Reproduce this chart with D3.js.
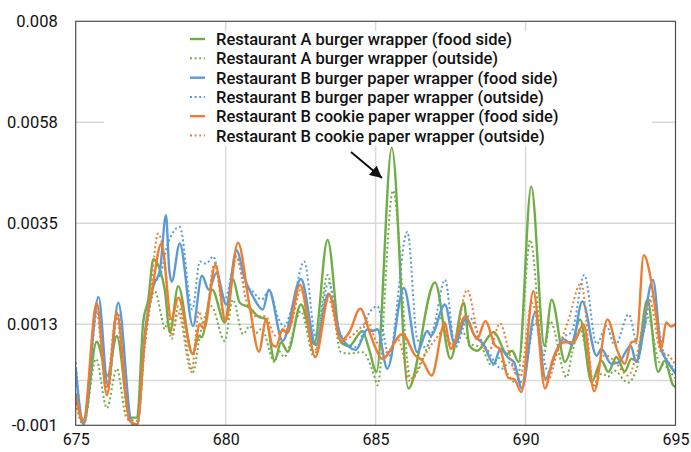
<!DOCTYPE html>
<html>
<head>
<meta charset="utf-8">
<script src="https://cdn.jsdelivr.net/npm/d3@7"></script>
<style>
  body { margin: 0; background: #fff; }
  svg { display: block; }
</style>
</head>
<body>
<svg id="chart" width="691" height="452"></svg>
<script>
// Axis ticks
const xTicks = [675, 680, 685, 690, 695];
const yTicks = [-0.001, 0.00125, 0.0035, 0.00575, 0.008];
const yTickLabels = ["-0.001", "0.0013", "0.0035", "0.0058", "0.008"];

// Series names (legend order)
const seriesNames = [
  "Restaurant A burger wrapper (food side)",
  "Restaurant A burger wrapper (outside)",
  "Restaurant B burger paper wrapper (food side)",
  "Restaurant B burger paper wrapper (outside)",
  "Restaurant B cookie paper wrapper (food side)",
  "Restaurant B cookie paper wrapper (outside)"
];

// Restaurant A burger wrapper (food side)
const aFoodX = [675.00,675.26,675.70,676.06,676.37,676.81,677.05,677.25,677.42,677.59,677.81,677.97,678.14,678.42,678.89,679.11,679.20,679.55,679.97,680.24,680.47,680.80,681.07,681.35,681.63,681.85,682.07,682.51,682.95,683.40,683.84,684.12,684.56,684.78,685.03,685.54,686.09,686.98,687.50,687.94,688.13,688.38,688.94,689.38,689.55,689.77,690.19,690.63,690.87,691.32,691.55,691.82,692.20,692.53,692.76,693.03,693.31,693.53,693.70,694.06,694.42,694.64,694.92,695.00];
const aFoodV = [-2.9e-4,-9.6e-4,8.6e-4,1.1e-4,9.9e-4,-8.3e-4,-8.3e-4,12.9e-4,18.0e-4,27.0e-4,24.6e-4,20.2e-4,10.7e-4,21.0e-4,5.9e-4,9.9e-4,9.6e-4,20.2e-4,12.9e-4,22.6e-4,17.3e-4,16.2e-4,14.3e-4,13.6e-4,4.4e-4,8.5e-4,6.4e-4,16.9e-4,8.1e-4,31.3e-4,8.5e-4,7.7e-4,11.0e-4,7.0e-4,1.9e-4,51.8e-4,-1.8e-4,21.8e-4,4.8e-4,17.3e-4,7.7e-4,6.6e-4,10.8e-4,5.9e-4,6.6e-4,4.1e-4,43.2e-4,7.7e-4,18.0e-4,4.1e-4,8.0e-4,13.6e-4,-0.4e-4,4.4e-4,1.9e-4,5.2e-4,2.0e-4,4.8e-4,4.4e-4,18.0e-4,1.9e-4,4.4e-4,-1.1e-4,-1.5e-4];

// Restaurant A burger wrapper (outside)
const aOutX = [675.00,675.26,675.68,676.04,676.37,676.70,677.05,677.30,677.64,677.86,677.97,678.05,678.20,678.42,678.91,679.15,679.52,679.97,680.24,680.58,680.80,681.00,681.20,681.63,681.78,681.95,682.51,682.95,683.40,683.84,684.10,684.56,684.95,685.06,685.58,686.17,687.00,687.15,687.50,687.88,688.20,688.50,688.88,689.10,689.43,689.71,690.16,690.60,690.82,691.37,691.55,691.82,692.26,692.55,692.75,692.95,693.42,693.70,694.09,694.45,694.70,694.92,695.00];
const aOutV = [-5.1e-4,-9.9e-4,4.8e-4,-6.2e-4,2.6e-4,-8.4e-4,-9.0e-4,8.0e-4,19.9e-4,14.3e-4,11.4e-4,13.0e-4,9.2e-4,16.5e-4,1.9e-4,10.3e-4,16.5e-4,8.8e-4,18.0e-4,10.3e-4,12.1e-4,10.5e-4,11.5e-4,4.1e-4,6.5e-4,5.2e-4,15.4e-4,5.2e-4,23.5e-4,6.3e-4,6.0e-4,6.3e-4,1.1e-4,-1.1e-4,42.3e-4,0.4e-4,12.1e-4,14.0e-4,7.7e-4,10.7e-4,8.0e-4,7.5e-4,3.3e-4,5.0e-4,1.1e-4,-0.7e-4,31.3e-4,5.5e-4,13.2e-4,0.7e-4,6.0e-4,11.4e-4,-1.1e-4,1.5e-4,0.8e-4,2.2e-4,-0.5e-4,2.5e-4,14.0e-4,4.1e-4,3.0e-4,1.1e-4,0.5e-4];

// Restaurant B burger paper wrapper (food side)
const bFoodX = [675.00,675.26,675.76,676.07,676.42,676.87,677.05,677.31,677.59,677.81,678.01,678.12,678.20,678.47,678.91,679.21,679.44,679.69,680.02,680.36,680.63,680.91,681.24,681.44,681.90,682.51,683.01,683.43,683.84,684.34,684.73,684.90,685.06,685.39,685.94,686.39,686.72,686.85,687.31,687.64,688.00,688.30,688.60,688.94,689.16,689.43,689.62,689.88,690.32,690.67,690.97,691.26,691.55,691.89,692.37,692.53,692.86,693.10,693.51,693.69,694.25,694.52,694.75,695.00];
const bFoodV = [2.6e-4,-9.5e-4,18.6e-4,-1.1e-4,17.3e-4,-9.5e-4,-9.8e-4,10.7e-4,21.0e-4,24.6e-4,36.8e-4,24.6e-4,22.0e-4,30.5e-4,12.1e-4,23.3e-4,20.2e-4,23.9e-4,16.9e-4,29.0e-4,22.8e-4,18.7e-4,15.8e-4,20.2e-4,8.8e-4,22.6e-4,7.9e-4,19.3e-4,9.9e-4,6.8e-4,11.4e-4,11.0e-4,11.4e-4,2.6e-4,20.6e-4,6.3e-4,11.0e-4,10.0e-4,16.9e-4,8.1e-4,13.6e-4,10.0e-4,8.0e-4,3.7e-4,7.0e-4,5.0e-4,4.0e-4,-1.8e-4,15.1e-4,0.4e-4,5.5e-4,9.2e-4,8.0e-4,17.6e-4,5.5e-4,7.0e-4,3.7e-4,4.0e-4,7.7e-4,4.1e-4,22.4e-4,7.0e-4,4.0e-4,1.5e-4];

// Restaurant B burger paper wrapper (outside)
const bOutX = [675.00,675.26,675.74,676.07,676.40,676.87,677.05,677.31,677.60,677.85,678.05,678.47,678.89,679.14,679.35,679.58,679.97,680.36,680.65,680.85,681.20,681.45,681.75,681.95,682.20,682.62,683.01,683.43,683.80,684.05,684.38,684.73,685.06,685.45,686.06,686.39,686.67,686.95,687.31,687.66,688.10,688.50,688.75,689.21,689.45,689.88,690.32,690.76,691.20,691.55,691.96,692.37,692.70,692.98,693.44,693.75,693.95,694.20,694.60,695.00];
const bOutV = [4.0e-4,-9.8e-4,16.0e-4,-2.5e-4,15.0e-4,-9.8e-4,-9.8e-4,8.0e-4,21.0e-4,24.0e-4,30.0e-4,34.2e-4,15.8e-4,26.5e-4,26.0e-4,27.6e-4,18.0e-4,27.6e-4,21.0e-4,20.2e-4,18.0e-4,20.0e-4,14.0e-4,12.0e-4,16.0e-4,26.5e-4,9.6e-4,21.7e-4,11.0e-4,8.0e-4,7.4e-4,14.3e-4,16.5e-4,5.5e-4,33.1e-4,9.2e-4,7.4e-4,12.0e-4,22.4e-4,7.4e-4,14.3e-4,9.2e-4,6.5e-4,2.6e-4,4.0e-4,-0.4e-4,12.9e-4,1.9e-4,9.2e-4,11.0e-4,23.5e-4,8.1e-4,12.1e-4,7.7e-4,14.7e-4,7.7e-4,11.0e-4,18.7e-4,6.5e-4,2.5e-4];

// Restaurant B cookie paper wrapper (food side)
const cFoodX = [675.00,675.26,675.70,676.04,676.37,676.79,677.05,677.31,677.55,677.86,678.19,678.42,678.91,679.14,679.28,679.66,680.00,680.41,680.80,681.11,681.35,681.55,681.68,681.90,682.05,682.48,682.99,683.46,683.84,684.12,684.49,684.80,684.95,685.22,685.89,686.33,686.55,686.87,687.31,687.50,688.00,688.38,688.66,688.99,689.15,689.43,689.62,689.86,690.26,690.65,690.88,691.10,691.30,691.60,691.93,692.29,692.73,693.08,693.31,693.53,693.70,693.94,694.14,694.36,694.52,694.69,694.85,695.00];
const cFoodV = [-3.3e-4,-8.8e-4,17.3e-4,-3.3e-4,15.1e-4,-8.8e-4,-9.8e-4,10.0e-4,20.2e-4,30.5e-4,13.6e-4,18.4e-4,5.9e-4,12.5e-4,11.5e-4,25.7e-4,13.2e-4,30.7e-4,16.5e-4,6.4e-4,13.6e-4,8.0e-4,7.5e-4,11.4e-4,10.5e-4,21.3e-4,5.2e-4,19.1e-4,8.8e-4,10.7e-4,16.0e-4,10.7e-4,8.0e-4,4.8e-4,10.3e-4,5.5e-4,4.5e-4,1.1e-4,12.9e-4,7.0e-4,14.3e-4,9.2e-4,13.2e-4,7.7e-4,7.0e-4,0.5e-4,0.3e-4,-2.6e-4,19.9e-4,-1.8e-4,4.1e-4,7.5e-4,8.5e-4,8.5e-4,12.5e-4,-2.4e-4,13.6e-4,6.3e-4,3.7e-4,8.5e-4,8.8e-4,27.9e-4,23.9e-4,14.3e-4,7.0e-4,12.9e-4,12.0e-4,12.5e-4];

// Restaurant B cookie paper wrapper (outside)
const cOutX = [675.00,675.26,675.68,676.02,676.35,676.77,677.05,677.31,677.50,677.75,678.02,678.19,678.42,678.86,679.11,679.28,679.63,679.98,680.36,680.68,681.01,681.33,681.65,681.85,682.15,682.51,682.95,683.43,683.84,684.12,684.45,684.73,685.00,685.39,685.75,686.17,686.50,687.00,687.25,687.58,688.05,688.45,688.78,689.15,689.48,689.70,689.82,690.21,690.71,691.09,691.42,691.85,692.29,692.55,692.71,693.00,693.42,693.70,694.14,694.50,694.78,695.00];
const cOutV = [-4.0e-4,-9.8e-4,15.8e-4,-1.8e-4,14.3e-4,-9.0e-4,-9.8e-4,8.5e-4,20.0e-4,32.7e-4,23.3e-4,10.0e-4,15.0e-4,1.9e-4,15.4e-4,12.0e-4,26.1e-4,13.2e-4,27.6e-4,18.0e-4,14.3e-4,14.3e-4,10.0e-4,10.8e-4,12.0e-4,20.2e-4,6.3e-4,18.0e-4,8.8e-4,9.5e-4,11.4e-4,13.0e-4,9.0e-4,6.3e-4,9.0e-4,-0.4e-4,4.0e-4,9.2e-4,11.0e-4,7.7e-4,20.2e-4,9.2e-4,6.6e-4,12.7e-4,5.5e-4,1.1e-4,0.8e-4,17.3e-4,-0.4e-4,7.0e-4,13.2e-4,21.7e-4,-1.5e-4,5.5e-4,5.5e-4,4.0e-4,1.1e-4,5.5e-4,18.0e-4,6.5e-4,5.5e-4,3.5e-4];

const seriesX = [aFoodX, aOutX, bFoodX, bOutX, cFoodX, cOutX];
const seriesV = [aFoodV, aOutV, bFoodV, bOutV, cFoodV, cOutV];
const seriesColors = ["#70AD47", "#70AD47", "#5B9BD5", "#5B9BD5", "#ED7D31", "#ED7D31"];
const seriesDotted = [false, true, false, true, false, true];

const svg = d3.select("#chart");
const plot = { left: 75.7, right: 675.5, top: 21.3, bottom: 425.3 };

const x = d3.scaleLinear().domain([675, 695]).range([plot.left, plot.right]);
const y = d3.scaleLinear().domain([-0.001, 0.008]).range([plot.bottom, plot.top]);

const font = "Roboto, 'Noto Sans', Arial, sans-serif";

// Gridlines
const grid = svg.append("g").attr("stroke", "#d9d9d9").attr("stroke-width", 1.5);
grid.selectAll("line.h").data(yTicks.slice(1, -1).concat([0])).join("line")
  .attr("x1", plot.left).attr("x2", plot.right)
  .attr("y1", d => y(d)).attr("y2", d => y(d));
grid.selectAll("line.v").data(xTicks.slice(1, -1)).join("line")
  .attr("y1", plot.top).attr("y2", plot.bottom)
  .attr("x1", d => x(d)).attr("x2", d => x(d));

// Legend background
const legend = svg.append("g");
legend.append("rect").attr("x", 104).attr("y", 31).attr("width", 548).attr("height", 115).attr("fill", "#fff");

// Axes (labels only; the frame is drawn separately)
const xAxis = d3.axisBottom(x).tickValues(xTicks).tickSize(0).tickPadding(8).tickFormat(d3.format("d"));
const gx = svg.append("g").attr("transform", `translate(0,${plot.bottom})`).call(xAxis);
gx.select(".domain").remove();
gx.selectAll("text").attr("font-family", font).attr("font-size", 16).attr("fill", "#111");

const yAxis = d3.axisLeft(y).tickValues(yTicks).tickSize(0).tickPadding(18)
  .tickFormat((d, i) => yTickLabels[i]);
const gy = svg.append("g").attr("transform", `translate(${plot.left},0)`).call(yAxis);
gy.select(".domain").remove();
gy.selectAll("text").attr("font-family", font).attr("font-size", 16.5).attr("fill", "#111");

// Clip the curves to the plot frame
svg.append("clipPath").attr("id", "plotClip").append("rect")
  .attr("x", plot.left).attr("y", plot.top)
  .attr("width", plot.right - plot.left).attr("height", plot.bottom - plot.top);

const line = d3.line().x(d => x(d[0])).y(d => y(d[1])).curve(d3.curveMonotoneX);

const lines = svg.append("g").attr("clip-path", "url(#plotClip)");
seriesX.forEach((xs, i) => {
  const pts = xs.map((xv, j) => [xv, seriesV[i][j]]);
  lines.append("path")
    .attr("d", line(pts))
    .attr("fill", "none")
    .attr("stroke", seriesColors[i])
    .attr("stroke-width", seriesDotted[i] ? 2 : 2.4)
    .attr("stroke-dasharray", seriesDotted[i] ? "2 2.6" : null)
    .attr("stroke-linejoin", "round");
});

// Plot frame
svg.append("rect")
  .attr("x", plot.left).attr("y", plot.top)
  .attr("width", plot.right - plot.left).attr("height", plot.bottom - plot.top)
  .attr("fill", "none").attr("stroke", "#4d4d4d").attr("stroke-width", 1.2);

// Legend entries
const rowY = [39, 58.3, 77.7, 96.9, 116.2, 135.5];
seriesNames.forEach((name, i) => {
  legend.append("line")
    .attr("x1", 190).attr("x2", 205).attr("y1", rowY[i]).attr("y2", rowY[i])
    .attr("stroke", seriesColors[i])
    .attr("stroke-width", seriesDotted[i] ? 2 : 2.4)
    .attr("stroke-dasharray", seriesDotted[i] ? "2 2.6" : null);
  legend.append("text")
    .attr("x", 216).attr("y", rowY[i] + 6)
    .attr("font-family", font).attr("font-size", 16.5).attr("font-weight", 500)
    .attr("fill", "#111")
    .text(name);
});

// Arrow pointing at the main peak
const defs = svg.append("defs");
defs.append("marker").attr("id", "arrowHead")
  .attr("viewBox", "0 0 10 10").attr("refX", 10).attr("refY", 5)
  .attr("markerWidth", 6).attr("markerHeight", 6).attr("markerUnits", "strokeWidth")
  .attr("orient", "auto")
  .append("path").attr("d", "M0,0 L10,5 L0,10 z").attr("fill", "#111");
svg.append("line")
  .attr("x1", 351).attr("y1", 152).attr("x2", 382).attr("y2", 178)
  .attr("stroke", "#111").attr("stroke-width", 2)
  .attr("marker-end", "url(#arrowHead)");
</script>
</body>
</html>
